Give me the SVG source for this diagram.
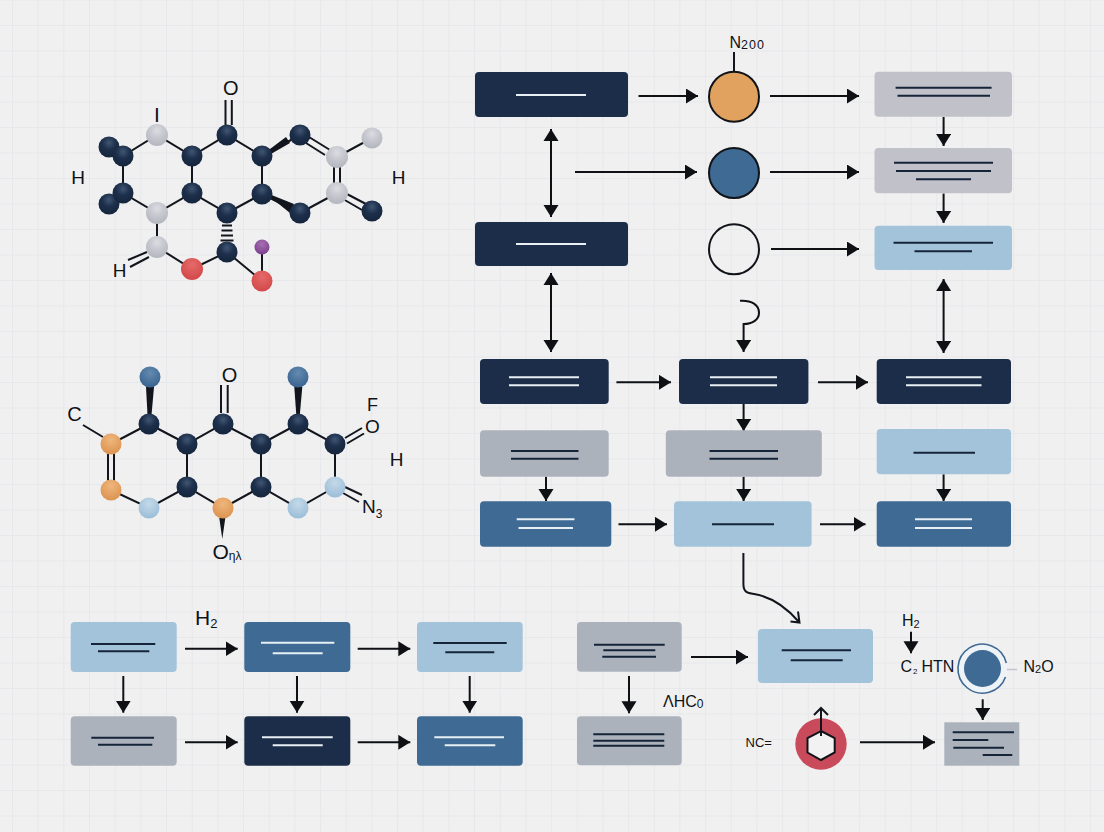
<svg xmlns="http://www.w3.org/2000/svg" width="1104" height="832" viewBox="0 0 1104 832">
<style>
.lbl{font-family:"Liberation Sans","Open Sans","DejaVu Sans",sans-serif;fill:#0f1216}
.bond{stroke:#12151b;stroke-width:2;fill:none}
.arr{stroke:#0e1014;stroke-width:2;fill:none;marker-end:url(#head)}
.dbl{stroke:#0e1014;stroke-width:2;fill:none;marker-end:url(#head);marker-start:url(#headS)}
.wedge{fill:#12151b;stroke:none}
.navy{fill:#1b2d48}.blue{fill:#3f6a94}.sky{fill:#a3c3db}.gray{fill:#abb2bb}.lav{fill:#c1c1ca}
.ld{stroke:#16243a;stroke-width:2}.ll{stroke:#e8eff5;stroke-width:2}
.an{fill:url(#gNavy)}.ag{fill:url(#gGray)}.ar{fill:url(#gRed)}.ap{fill:url(#gPurple)}.ab{fill:url(#gBlue)}.as{fill:url(#gSky)}.ao{fill:url(#gOrange)}
.circ{stroke:#101318;stroke-width:2}
</style>
<defs>
<pattern id="grid" width="25.67" height="25.5" patternUnits="userSpaceOnUse" patternTransform="translate(12 25)">
<path d="M0 0V25.5M0 0H25.67" stroke="#e7e8eb" stroke-width="2.2" fill="none"/>
</pattern>
<marker id="head" markerUnits="userSpaceOnUse" markerWidth="13" markerHeight="16" refX="12" refY="7.500" orient="auto"><path d="M0 0L12 7.500L0 15Z" fill="#0e1014"/></marker>
<marker id="headS" markerUnits="userSpaceOnUse" markerWidth="13" markerHeight="16" refX="0" refY="7.500" orient="auto"><path d="M12 0L0 7.500L12 15Z" fill="#0e1014"/></marker>
<radialGradient id="gNavy" cx=".5" cy=".3" r=".65"><stop offset="0" stop-color="#3f5673"/><stop offset=".5" stop-color="#1d2f4b"/><stop offset="1" stop-color="#16263e"/></radialGradient>
<radialGradient id="gGray" cx=".5" cy=".3" r=".65"><stop offset="0" stop-color="#dcdce2"/><stop offset=".6" stop-color="#c3c4cc"/><stop offset="1" stop-color="#b6b8c1"/></radialGradient>
<radialGradient id="gRed" cx=".5" cy=".3" r=".65"><stop offset="0" stop-color="#e56a68"/><stop offset="1" stop-color="#d34a4c"/></radialGradient>
<radialGradient id="gPurple" cx=".5" cy=".3" r=".65"><stop offset="0" stop-color="#a86fb0"/><stop offset="1" stop-color="#7e4391"/></radialGradient>
<radialGradient id="gBlue" cx=".5" cy=".3" r=".65"><stop offset="0" stop-color="#648bb0"/><stop offset="1" stop-color="#3b6591"/></radialGradient>
<radialGradient id="gSky" cx=".5" cy=".3" r=".65"><stop offset="0" stop-color="#c4d9e8"/><stop offset="1" stop-color="#9dbfd9"/></radialGradient>
<radialGradient id="gOrange" cx=".5" cy=".3" r=".65"><stop offset="0" stop-color="#efb67c"/><stop offset="1" stop-color="#dd9553"/></radialGradient>
</defs>
<rect width="1104" height="832" fill="#f0f0f1"/>
<rect width="1104" height="832" fill="url(#grid)"/>

<g id="connectors">
<g id="bonds-1">
<path class="bond" d="M123 156L157 135L192 156L227 135L262 156L300 135M337 157L372 138M337 193L300 213L262 194L227 213L192 193L157 213L123 193V156M192 156V193M262 156V194M157 213V247L192 269L227 252L262 281V247M109 147L123 156M109 204L123 193"/>
<path class="bond" d="M309 137L330 150M306 143L325 155M334 165V186M340 165V186M345 193L366 204M343 199L362 210M225.500 100V125M231.800 100V125M147 252L128 260M149 257L130 267"/>
<polygon class="wedge" points="262,155 286,137 290,143 264,158"/>
<polygon class="wedge" points="264,192 294,204 290,213"/>
<path class="bond" d="M222 225.500H232M221.500 230.500H232.500M221 235.500H233M220.500 240.500H233.500"/>
</g>
<g id="bonds-2">
<path class="bond" d="M111 444L149 424L187 444L223 424L261 444L298 424L335 444V487L298 508L261 487L223 508L187 487L149 508L111 490M187 444V487M261 444V487M83 425L103 437"/>
<path class="bond" d="M108 450V484M114 450V484M221 385V413M227.700 385V413M345 438L362 428M347 443.500L364 433.500M345 487L362 495M343 493L359 502"/>
<polygon class="wedge" points="146,387 154,387 151.500,415 147.500,415"/>
<polygon class="wedge" points="294.300,387 302.300,387 299.800,415 296.300,415"/>
<polygon class="wedge" points="219.300,518 225.300,518 222.300,539"/>
</g>
<g id="flow-top">
<path class="bond" d="M734 52V72"/>
<path class="arr" d="M638.500 96H698"/>
<path class="arr" d="M770 96H859"/>
<path class="arr" d="M575 172H697"/>
<path class="arr" d="M770 172H859"/>
<path class="arr" d="M771 249H859"/>
<path class="dbl" d="M551 129V217"/>
<path class="dbl" d="M551 273V352"/>
<path class="dbl" d="M943.600 279V353"/>
<path class="arr" d="M740 300.700C752 300 759 305 759 312.700C759 320 752 324 743.600 324V352"/>
<path class="arr" d="M943.600 117V146"/>
<path class="arr" d="M943.600 193.500V223"/>
</g>
<g id="flow-mid">
<path class="arr" d="M616.400 382.300H671"/>
<path class="arr" d="M818 382.300H868"/>
<path class="arr" d="M743.600 404V431"/>
<path class="arr" d="M546 476.700V501"/>
<path class="arr" d="M743.600 476.700V501"/>
<path class="arr" d="M943.600 474.300V501"/>
<path class="arr" d="M618.500 524.300H667"/>
<path class="arr" d="M820 524.300H865.500"/>
<path class="bond" d="M743.400 553V584C743.400 592 747 593 754 594C772 597 787 608 799 622M790.500 621.500L799.500 622.500L798 611.500"/>
</g>
<g id="flow-bottom">
<path class="arr" d="M185 648.700H237.700"/>
<path class="arr" d="M357.700 648.700H410.300"/>
<path class="arr" d="M185 742.300H237.700"/>
<path class="arr" d="M357.700 742.300H410.300"/>
<path class="arr" d="M123.300 676V712.700"/>
<path class="arr" d="M297 676V712.700"/>
<path class="arr" d="M469.700 676V712.700"/>
<path class="arr" d="M691 657H748"/>
<path class="arr" d="M629 676V713.300"/>
<path class="arr" d="M911 631.700V653.300"/>
<path class="arr" d="M982.700 699.300V720"/>
<path class="arr" d="M860 742.300H935"/>
<path d="M1003 669.500H1017" stroke="#c3c6ce" stroke-width="1.500" fill="none"/>
</g>
</g>

<g id="molecule-1">
<g id="m1-a1"><circle class="an" cx="109" cy="147" r="10.500"/></g>
<g id="m1-a2"><circle class="an" cx="109" cy="204" r="10.500"/></g>
<g id="m1-a3"><circle class="an" cx="123" cy="156" r="10.500"/></g>
<g id="m1-a4"><circle class="an" cx="123" cy="193" r="10.500"/></g>
<g id="m1-a5"><circle class="ag" cx="157" cy="135" r="11"/></g>
<g id="m1-a6"><circle class="an" cx="192" cy="156" r="10.500"/></g>
<g id="m1-a7"><circle class="an" cx="192" cy="193" r="10.500"/></g>
<g id="m1-a8"><circle class="ag" cx="157" cy="213" r="11"/></g>
<g id="m1-a9"><circle class="an" cx="227" cy="135" r="10.500"/></g>
<g id="m1-a10"><circle class="an" cx="262" cy="156" r="10.500"/></g>
<g id="m1-a11"><circle class="an" cx="262" cy="194" r="10.500"/></g>
<g id="m1-a12"><circle class="an" cx="227" cy="213" r="10.500"/></g>
<g id="m1-a13"><circle class="an" cx="300" cy="135" r="10.500"/></g>
<g id="m1-a14"><circle class="ag" cx="337" cy="157" r="11"/></g>
<g id="m1-a15"><circle class="ag" cx="337" cy="193" r="11"/></g>
<g id="m1-a16"><circle class="an" cx="300" cy="213" r="10.500"/></g>
<g id="m1-a17"><circle class="ag" cx="372" cy="138" r="10.500"/></g>
<g id="m1-a18"><circle class="an" cx="372" cy="211" r="10.500"/></g>
<g id="m1-a19"><circle class="ag" cx="157" cy="247" r="11"/></g>
<g id="m1-a20"><circle class="ar" cx="192" cy="269" r="11"/></g>
<g id="m1-a21"><circle class="an" cx="227" cy="252" r="10.500"/></g>
<g id="m1-a22"><circle class="ar" cx="262" cy="281" r="10.500"/></g>
<g id="m1-a23"><circle class="ap" cx="262" cy="247" r="7.500"/></g>
<text class="lbl" x="230.700" y="95" font-size="20" text-anchor="middle">O</text>
<text class="lbl" x="157" y="122" font-size="21" text-anchor="middle">I</text>
<text class="lbl" x="78" y="183.500" font-size="19" text-anchor="middle">H</text>
<text class="lbl" x="398.500" y="183.500" font-size="19" text-anchor="middle">H</text>
<text class="lbl" x="119.500" y="277" font-size="19" text-anchor="middle">H</text>
</g>

<g id="molecule-2">
<g id="m2-a1"><circle class="ab" cx="150" cy="377" r="10.500"/></g>
<g id="m2-a2"><circle class="an" cx="149" cy="424" r="10.500"/></g>
<g id="m2-a3"><circle class="an" cx="187" cy="444" r="10.500"/></g>
<g id="m2-a4"><circle class="an" cx="223" cy="424" r="10.500"/></g>
<g id="m2-a5"><circle class="an" cx="261" cy="444" r="10.500"/></g>
<g id="m2-a6"><circle class="an" cx="298" cy="424" r="10.500"/></g>
<g id="m2-a7"><circle class="ab" cx="298" cy="377" r="10.500"/></g>
<g id="m2-a8"><circle class="an" cx="335" cy="444" r="10.500"/></g>
<g id="m2-a9"><circle class="as" cx="335" cy="487" r="10.500"/></g>
<g id="m2-a10"><circle class="as" cx="298" cy="508" r="10.500"/></g>
<g id="m2-a11"><circle class="an" cx="261" cy="487" r="10.500"/></g>
<g id="m2-a12"><circle class="ao" cx="223" cy="508" r="10.500"/></g>
<g id="m2-a13"><circle class="an" cx="187" cy="487" r="10.500"/></g>
<g id="m2-a14"><circle class="as" cx="149" cy="508" r="10.500"/></g>
<g id="m2-a15"><circle class="ao" cx="111" cy="490" r="10.500"/></g>
<g id="m2-a16"><circle class="ao" cx="111" cy="444" r="10.500"/></g>
<text class="lbl" x="74.500" y="421" font-size="20" text-anchor="middle">C</text>
<text class="lbl" x="229.500" y="381.700" font-size="20" text-anchor="middle">O</text>
<text class="lbl" x="372.500" y="411" font-size="18" text-anchor="middle">F</text>
<text class="lbl" x="372.500" y="433" font-size="19" text-anchor="middle">O</text>
<text class="lbl" x="396.500" y="465.700" font-size="19" text-anchor="middle">H</text>
<text class="lbl" x="362" y="512.700" font-size="19">N<tspan font-size="12" dy="5">3</tspan></text>
<text class="lbl" x="212.500" y="559" font-size="21">O<tspan font-size="12" dy="1">ηλ</tspan></text>
</g>

<g id="node-top-navy-1"><rect class="navy" x="475" y="72" width="153" height="45" rx="4"/><path class="ll" d="M516 95H586"/></g>
<g id="node-top-navy-2"><rect class="navy" x="475" y="222" width="153" height="44" rx="4"/><path class="ll" d="M516 244H586"/></g>
<g id="node-circle-orange"><circle class="circ" cx="734" cy="96.700" r="25" fill="#e1a25f"/></g>
<g id="node-circle-blue"><circle class="circ" cx="734" cy="173" r="25" fill="#3f6a94"/></g>
<g id="node-circle-empty"><circle class="circ" cx="734" cy="249.300" r="25" fill="none"/></g>
<g id="label-n200"><text class="lbl" x="729.500" y="48" font-size="16">N<tspan font-size="12.500" dy="1" letter-spacing="1">200</tspan></text></g>
<g id="node-lav-1"><rect class="lav" x="874.500" y="71.700" width="137.500" height="45" rx="4"/><path class="ld" d="M895.600 87.700H991.600M897.500 95.700H990"/></g>
<g id="node-lav-2"><rect class="lav" x="874.500" y="148" width="137.500" height="45.300" rx="4"/><path class="ld" d="M894 162.700H993M896 171H991M916 179.300H971"/></g>
<g id="node-sky-top"><rect class="sky" x="874.500" y="225.700" width="137.500" height="44.300" rx="4"/><path class="ld" d="M893.500 242.700H993M914.500 251.300H972"/></g>

<g id="node-mid-navy-1"><rect class="navy" x="480" y="359" width="128.700" height="45" rx="4"/><path class="ll" d="M509 377.300H579M509 385.300H579"/></g>
<g id="node-mid-navy-2"><rect class="navy" x="679" y="359" width="129.400" height="45" rx="4"/><path class="ll" d="M710 377.300H777M710 385.300H777"/></g>
<g id="node-mid-navy-3"><rect class="navy" x="876.700" y="359" width="134.300" height="45" rx="4"/><path class="ll" d="M906 377.300H981.500M906 385.300H981.500"/></g>
<g id="node-mid-gray-1"><rect class="gray" x="480" y="430.300" width="128.700" height="46.400" rx="4"/><path class="ld" d="M511 451H578.500M511 458.700H578.500"/></g>
<g id="node-mid-gray-2"><rect class="gray" x="665.800" y="430.300" width="156" height="46.400" rx="4"/><path class="ld" d="M709.500 451H778M709.500 458.700H778"/></g>
<g id="node-mid-sky-1"><rect class="sky" x="876.700" y="429" width="134.300" height="45.300" rx="4"/><path class="ld" d="M913.500 452.700H975"/></g>
<g id="node-mid-blue-1"><rect class="blue" x="480" y="501.300" width="131.300" height="45.400" rx="4"/><path class="ll" d="M516.700 519.300H574.500M518.500 528H573"/></g>
<g id="node-mid-sky-2"><rect class="sky" x="674" y="501.300" width="137.600" height="45.400" rx="4"/><path class="ld" d="M712 524.300H774"/></g>
<g id="node-mid-blue-2"><rect class="blue" x="876.700" y="501.300" width="134.300" height="45.400" rx="4"/><path class="ll" d="M915 519.300H972M915 528H972"/></g>

<g id="node-bot-sky-1"><rect class="sky" x="70.700" y="622" width="106" height="50" rx="4"/><path class="ld" d="M91 644H155.300M98 651.300H149.300"/></g>
<g id="node-bot-blue-1"><rect class="blue" x="244.300" y="622" width="106" height="50" rx="4"/><path class="ll" d="M261 642.700H334.300M272.700 653.300H322.700"/></g>
<g id="node-bot-sky-2"><rect class="sky" x="417" y="622" width="105.700" height="50" rx="4"/><path class="ld" d="M433.300 643H506.700M445.300 652.300H494.300"/></g>
<g id="node-bot-gray-1"><rect class="gray" x="70.700" y="716.300" width="106" height="49.400" rx="4"/><path class="ld" d="M91.300 737.700H154M98 744.700H152.300"/></g>
<g id="node-bot-navy"><rect class="navy" x="244.300" y="716.300" width="106" height="49.400" rx="4"/><path class="ll" d="M262 737.300H332.700M272.700 745.300H322.700"/></g>
<g id="node-bot-blue-2"><rect class="blue" x="417" y="716.300" width="105.700" height="49.400" rx="4"/><path class="ll" d="M434.300 737.300H504M444.700 745.300H495.300"/></g>
<g id="label-h2-left"><text class="lbl" x="195" y="625" font-size="21">H<tspan font-size="13" dy="3">2</tspan></text></g>

<g id="node-bot-gray-2"><rect class="gray" x="577" y="622" width="104.700" height="49.700" rx="4"/><path class="ld" d="M594 644.700H664.700M603.300 650.300H655.300M602.300 656.700H656"/></g>
<g id="node-bot-gray-3"><rect class="gray" x="577" y="716.300" width="104.700" height="49" rx="4"/><path class="ld" d="M593.300 734.300H664.300M593.300 740.700H664.300M593.300 745.700H664.300"/></g>
<g id="label-hc0"><text class="lbl" x="663" y="707" font-size="16">ΛHC<tspan font-size="12" dy="1">0</tspan></text></g>
<g id="node-bot-sky-3"><rect class="sky" x="758" y="629" width="115" height="54" rx="4"/><path class="ld" d="M781.700 650.300H851M790.700 660.300H842.700"/></g>
<g id="label-h2-right"><text class="lbl" x="902" y="626" font-size="16">H<tspan font-size="11" dy="2">2</tspan></text></g>
<g id="label-c2-htn"><text class="lbl" x="900.500" y="672" font-size="16">C<tspan font-size="8" dy="2" dx="1">2</tspan><tspan dy="-2" dx="4">HTN</tspan></text></g>
<g id="node-ring">
<circle cx="982.500" cy="668.500" r="24.500" fill="#eef3f7"/>
<path d="M1006.300 663A24.500 24.500 0 1 0 1005.500 677" fill="none" stroke="#3f6a94" stroke-width="1.600"/>
<circle cx="982.500" cy="668.500" r="18.500" fill="#3f6a94"/>
</g>
<g id="label-n2o"><text class="lbl" x="1023.500" y="672" font-size="16">N<tspan font-size="11" dy="1">2</tspan><tspan dy="-1">O</tspan></text></g>
<g id="node-red-hex">
<circle cx="821" cy="744" r="25.700" fill="#c94a5b"/>
<polygon points="821,731 834.700,738 834.700,752.500 821,760 807.500,752.500 807.500,738" fill="#f2f2f3" stroke="#101318" stroke-width="2"/>
<path class="bond" d="M821 736V708M814 715L821 708L828 715"/>
</g>
<g id="label-nc"><text class="lbl" x="745.500" y="746.700" font-size="13">NC=</text></g>
<g id="node-bot-gray-square"><rect class="gray" x="944.300" y="722.300" width="75" height="43.400"/><path class="ld" d="M952.700 732.300H1014M952.700 740H988.300M953.300 747.700H1004M982.700 755H1012.300"/></g>
</svg>
